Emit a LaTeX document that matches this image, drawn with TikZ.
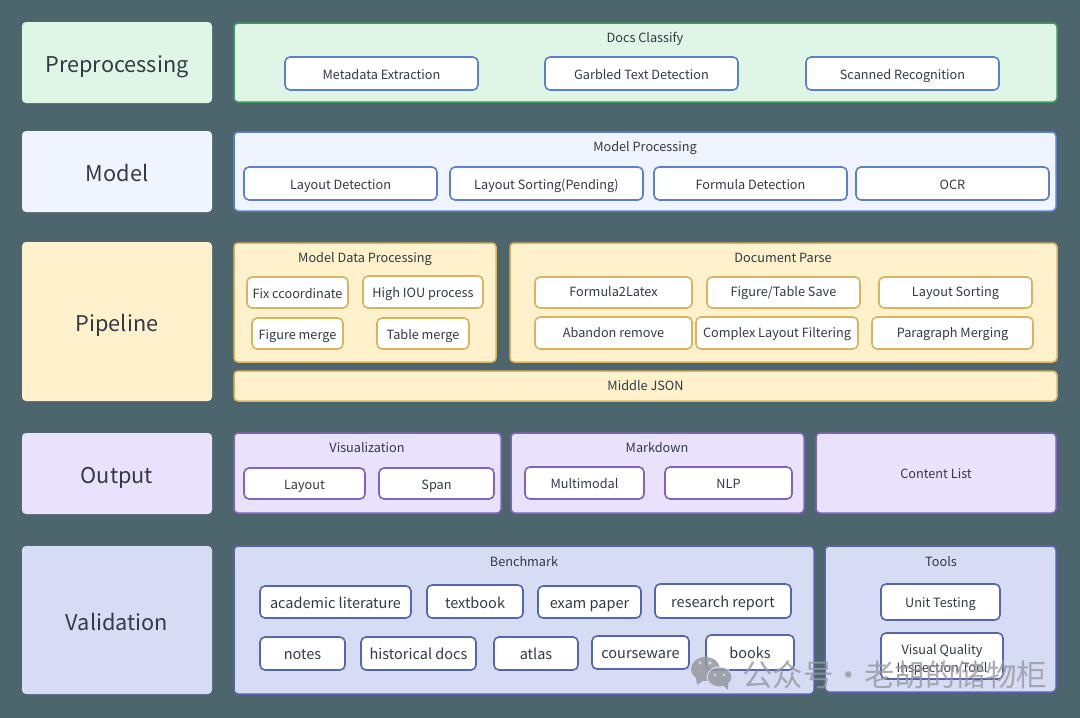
\documentclass[tikz,border=0pt]{standalone}
\usepackage{fontspec}
\setmainfont{Noto Sans CJK SC}
\usetikzlibrary{positioning}

\definecolor{pagebg}{HTML}{4D666E}
\definecolor{inktext}{HTML}{333A45}
\definecolor{prefill}{HTML}{DFF6E6}
\definecolor{preline}{HTML}{3F9A5C}
\definecolor{modelfill}{HTML}{EFF4FE}
\definecolor{modelline}{HTML}{5B80D2}
\definecolor{pipefill}{HTML}{FEF1CC}
\definecolor{pipeline}{HTML}{D9B45F}
\definecolor{outfill}{HTML}{EAE2FD}
\definecolor{outline}{HTML}{7F62C4}
\definecolor{valfill}{HTML}{D7DCF5}
\definecolor{valline}{HTML}{5666AE}
\definecolor{markgray}{HTML}{96989E}

\tikzset{
  layer/.style={rectangle,rounded corners=4pt,anchor=north west,outer sep=0pt,text=inktext,font=\fontsize{21.7}{26}\selectfont,text height=22pt,text depth=1.6pt,minimum width=190pt},
  panel/.style={rectangle,rounded corners=4pt,draw,line width=1.5pt,anchor=north west,outer sep=0pt,text=inktext,font=\fontsize{12.7}{16}\selectfont,text height=12pt,text depth=1pt},
  paneltitle/.style={inner sep=0pt,text=inktext,font=\fontsize{12.7}{16}\selectfont,text height=12pt,text depth=1pt},
  item/.style={rectangle,rounded corners=5pt,draw,line width=1.6pt,fill=white,outer sep=0pt,inner sep=0pt,text=inktext,font=\fontsize{12.7}{18}\selectfont,text height=12pt,text depth=1pt},
  bigitem/.style={item,font=\fontsize{14.5}{18}\selectfont,text height=13.5pt},
  wmark/.style={inner sep=0pt,text=markgray,text opacity=.8,font=\fontsize{30.5}{34}\selectfont}
}

\begin{document}
\begin{tikzpicture}[x=1pt,y=-1pt]
  \fill[pagebg] (0,0) rectangle (1080,718);

  % left column
  \node[layer,fill=prefill,minimum height=81pt] (prelayer) at (22,22) {Preprocessing};
  \node[layer,fill=modelfill,minimum height=81pt] (modellayer) at (22,131) {Model};
  \node[layer,fill=pipefill,minimum height=159pt] (pipelayer) at (22,242) {Pipeline};
  \node[layer,fill=outfill,minimum height=81pt] (outlayer) at (22,433) {Output};
  \node[layer,fill=valfill,minimum height=148pt] (vallayer) at (22,546) {Validation};

  % preprocessing row
  \node[panel,draw=preline,fill=prefill,minimum width=823pt,minimum height=79pt] (docspanel) at (234,23) {};
  \node[paneltitle] (docstitle) at (645,37) {Docs Classify};
  \node[item,draw=modelline,minimum width=193pt,minimum height=33pt,anchor=north west] (metadata) at (285,57) {Metadata Extraction};
  \node[item,draw=modelline,minimum width=193pt,minimum height=33pt,right=67pt of metadata] (garbled) {Garbled Text Detection};
  \node[item,draw=modelline,minimum width=193pt,minimum height=33pt,right=68pt of garbled] (scanned) {Scanned Recognition};

  % model row
  \node[panel,draw=modelline,fill=modelfill,minimum width=822pt,minimum height=79pt] (modelpanel) at (234,132) {};
  \node[paneltitle] (modeltitle) at (645,146) {Model Processing};
  \node[item,draw=modelline,minimum width=193pt,minimum height=33pt,anchor=north west] (layoutdet) at (244,167) {Layout Detection};
  \node[item,draw=modelline,minimum width=193pt,minimum height=33pt,right=13pt of layoutdet] (layoutsort) {Layout Sorting(Pending)};
  \node[item,draw=modelline,minimum width=193pt,minimum height=33pt,right=11pt of layoutsort] (formuladet) {Formula Detection};
  \node[item,draw=modelline,minimum width=193pt,minimum height=33pt,right=9pt of formuladet] (ocr) {OCR};

  % pipeline row
  \node[panel,draw=pipeline,fill=pipefill,minimum width=262pt,minimum height=119pt] (datapanel) at (234,243) {};
  \node[paneltitle] (datatitle) at (365,257) {Model Data Processing};
  \node[item,draw=pipeline,minimum width=101pt,minimum height=31pt,anchor=north west] (fixcoord) at (247,277) {Fix ccoordinate};
  \node[item,draw=pipeline,minimum width=120pt,minimum height=32pt,anchor=north west] (highiou) at (363,276) {High IOU process};
  \node[item,draw=pipeline,minimum width=91pt,minimum height=31pt,anchor=north west] (figmerge) at (252,318) {Figure merge};
  \node[item,draw=pipeline,minimum width=92pt,minimum height=31pt,anchor=north west] (tabmerge) at (377,318) {Table merge};

  \node[panel,draw=pipeline,fill=pipefill,minimum width=547pt,minimum height=119pt] (parsepanel) at (510,243) {};
  \node[paneltitle] (parsetitle) at (783,257) {Document Parse};
  \node[item,draw=pipeline,text depth=3.5pt,minimum width=157pt,minimum height=31pt,anchor=north west] (formulatex) at (535,277) {Formula2Latex};
  \node[item,draw=pipeline,text depth=3.5pt,minimum width=153pt,minimum height=31pt,right=15pt of formulatex] (figsave) {Figure/Table Save};
  \node[item,draw=pipeline,text depth=3.5pt,minimum width=153pt,minimum height=31pt,right=19pt of figsave] (sorting) {Layout Sorting};
  \node[item,draw=pipeline,text depth=3pt,minimum width=157pt,minimum height=32pt,anchor=north west] (abandon) at (535,317) {Abandon remove};
  \node[item,draw=pipeline,text depth=3pt,minimum width=162pt,minimum height=32pt,right=4pt of abandon] (complex) {Complex Layout Filtering};
  \node[item,draw=pipeline,text depth=3pt,minimum width=161pt,minimum height=32pt,right=14pt of complex] (paragraph) {Paragraph Merging};

  \node[panel,draw=pipeline,fill=pipefill,text depth=3pt,minimum width=823pt,minimum height=30pt] (middlejson) at (234,371) {Middle JSON};

  % output row
  \node[panel,draw=outline,fill=outfill,minimum width=267pt,minimum height=80pt] (vispanel) at (234,433) {};
  \node[paneltitle] (vistitle) at (367,447) {Visualization};
  \node[item,draw=outline,minimum width=121pt,minimum height=31pt,anchor=north west] (layoutbox) at (244,468) {Layout};
  \node[item,draw=outline,minimum width=115pt,minimum height=31pt,right=14pt of layoutbox] (spanbox) {Span};

  \node[panel,draw=outline,fill=outfill,minimum width=293pt,minimum height=80pt] (mdpanel) at (511,433) {};
  \node[paneltitle] (mdtitle) at (657,447) {Markdown};
  \node[item,draw=outline,minimum width=119pt,minimum height=32pt,anchor=north west] (multimodal) at (525,467) {Multimodal};
  \node[item,draw=outline,minimum width=127pt,minimum height=32pt,right=21pt of multimodal] (nlp) {NLP};

  \node[panel,draw=outline,fill=outfill,minimum width=240pt,minimum height=80pt] (contentlist) at (816,433) {Content List};

  % validation row
  \node[panel,draw=valline,fill=valfill,minimum width=580pt,minimum height=148pt] (benchpanel) at (234,546) {};
  \node[paneltitle] (benchtitle) at (524,561) {Benchmark};
  \node[bigitem,draw=valline,minimum width=151pt,minimum height=32pt,anchor=north west] (academic) at (260,586) {academic literature};
  \node[bigitem,draw=valline,text height=15pt,minimum width=96pt,minimum height=33pt,anchor=north west] (textbook) at (427,585) {textbook};
  \node[bigitem,draw=valline,minimum width=103pt,minimum height=32pt,anchor=north west] (exampaper) at (538,586) {exam paper};
  \node[bigitem,draw=valline,minimum width=136pt,minimum height=34pt,anchor=north west] (report) at (655,584) {research report};
  \node[bigitem,draw=valline,minimum width=85pt,minimum height=33pt,anchor=north west] (notes) at (260,637) {notes};
  \node[bigitem,draw=valline,minimum width=115pt,minimum height=33pt,anchor=north west] (historical) at (361,637) {historical docs};
  \node[bigitem,draw=valline,minimum width=84pt,minimum height=33pt,anchor=north west] (atlas) at (494,637) {atlas};
  \node[bigitem,draw=valline,minimum width=97pt,minimum height=33pt,anchor=north west] (courseware) at (592,636) {courseware};
  \node[bigitem,draw=valline,minimum width=88pt,minimum height=35pt,anchor=north west] (books) at (706,635) {books};

  \node[panel,draw=valline,fill=valfill,minimum width=231pt,minimum height=146pt] (toolspanel) at (825,546) {};
  \node[paneltitle] (toolstitle) at (941,561) {Tools};
  \node[item,draw=valline,minimum width=119pt,minimum height=36pt,anchor=north west] (unittest) at (881,584) {Unit Testing};
  \node[item,draw=valline,minimum width=122pt,minimum height=46pt,anchor=north west,align=center,text height=,text depth=] (quality) at (881,633) {\rule{0pt}{17pt}Visual Quality\\Inspection Tool};

  % account mark on top of everything
  \begin{scope}[transparency group,opacity=.85]
    \fill[markgray] (705.5,669) ellipse (14.5pt and 12pt);
    \fill[markgray] (696,678) -- (697,685) -- (704,680) -- cycle;
    \fill[white!55!markgray] (700,663) circle (1.8pt) (710,663) circle (1.8pt);
    \fill[markgray,draw=valfill,line width=1pt] (719.5,677) ellipse (12.5pt and 10pt);
    \fill[markgray] (723,685) -- (728,690) -- (728,682) -- cycle;
    \fill[white!55!markgray] (715,675) circle (1.6pt) (724,675) circle (1.6pt);
  \end{scope}
  \node[wmark,anchor=west] (account) at (742,675) {公众号·老胡的储物柜};
\end{tikzpicture}
\end{document}
